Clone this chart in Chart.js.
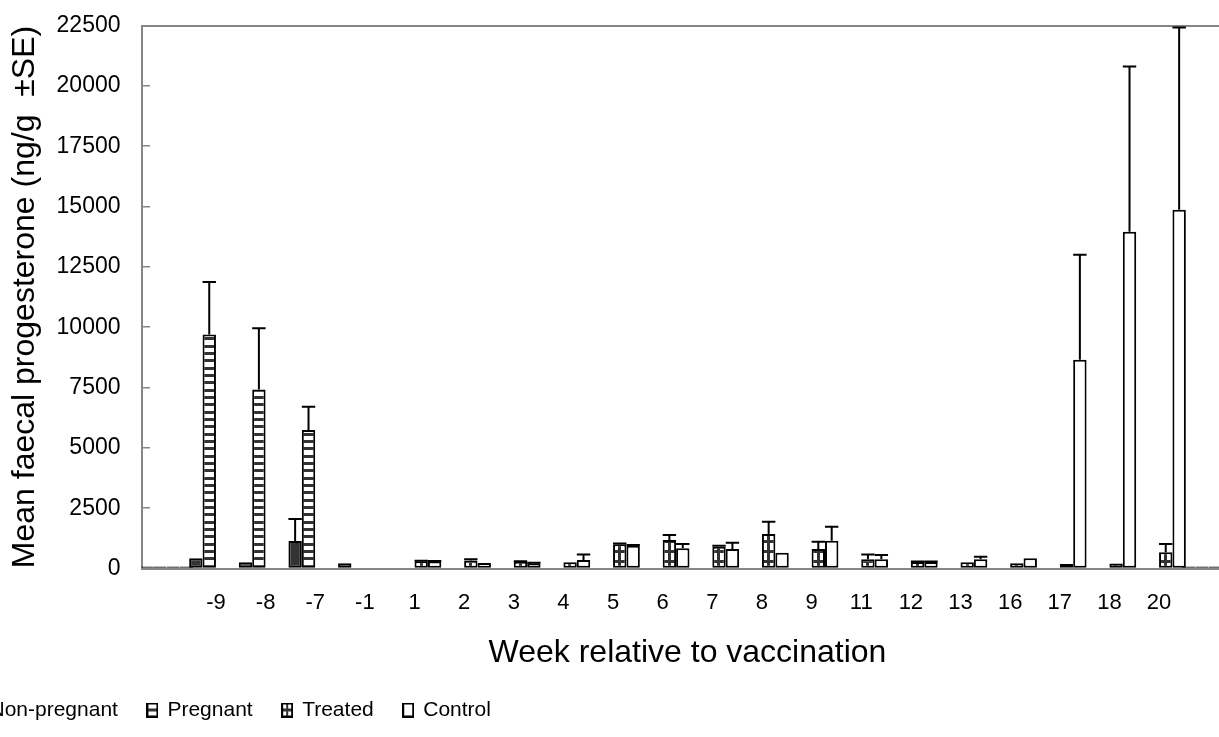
<!DOCTYPE html>
<html>
<head>
<meta charset="utf-8">
<script src="https://cdn.jsdelivr.net/npm/chart.js@4.4.1/dist/chart.umd.min.js"></script>
<style>
  html, body { margin: 0; padding: 0; background: #fff; overflow: hidden; width: 1219px; height: 737px; }
  #wrap { position: absolute; left: -60px; top: 0; }
</style>
</head>
<body>
<div id="wrap"><canvas id="c" width="1300" height="737"></canvas></div>
<script>
// Weeks relative to vaccination (blank slots pad both ends of the axis)
const weeks = ['', '-9', '-8', '-7', '-1', '1', '2', '3', '4', '5', '6', '7', '8', '9', '11', '12', '13', '16', '17', '18', '20', ''];

// Mean faecal progesterone (ng/g) per group
const nonPregnant = [0, 420, 255, 1140, 215, null, null, null, null, null, null, null, null, null, null, null, null, null, null, null, null, 0];
const pregnant    = [0, 9700, 7420, 5740, null, null, null, null, null, null, null, null, null, null, null, null, null, null, null, null, null, 0];
const treated     = [0, null, null, null, null, 300, 330, 280, 255, 1000, 1180, 900, 1425, 805, 380, 270, 255, 215, 185, 210, 670, 0];
const control     = [0, null, null, null, null, 290, 225, 215, 350, 945, 835, 805, 650, 1150, 380, 270, 380, 420, 8650, 13950, 14870, 0];

// Standard errors (drawn upward only)
const nonPregnantSE = [null, 0, 0, 910, 0, null, null, null, null, null, null, null, null, null, null, null, null, null, null, null, null, null];
const pregnantSE    = [null, 2170, 2540, 960, null, null, null, null, null, null, null, null, null, null, null, null, null, null, null, null, null, null];
const treatedSE     = [null, null, null, null, null, 20, 50, 20, 0, 40, 205, 40, 510, 305, 205, 20, 0, 0, 0, 0, 345, null];
const controlSE     = [null, null, null, null, null, 20, 0, 20, 235, 30, 180, 262, 0, 580, 180, 20, 110, 0, 4350, 6850, 7550, null];

// Y axis ticks
const yTicks = [0, 2500, 5000, 7500, 10000, 12500, 15000, 17500, 20000, 22500];

const FONT = "'Liberation Sans', Arial, sans-serif";
const AXIS_GREY = '#868686';
const DARK = '#333333';

const canvas = document.getElementById('c');
const g2d = canvas.getContext('2d');

function makeTile(w, h, paint) {
  const t = document.createElement('canvas');
  t.width = w; t.height = h;
  const c = t.getContext('2d');
  c.fillStyle = '#fff';
  c.fillRect(0, 0, w, h);
  c.fillStyle = DARK;
  paint(c);
  return t;
}

// horizontal stripes (pregnant)
const stripeTile = makeTile(4, 22, c => { [0, 7, 15].forEach(y => c.fillRect(0, y, 4, 3)); });
const stripePattern = g2d.createPattern(stripeTile, 'repeat');

// grid cells (treated): one vertical line per bar plus horizontal rules
const gridTile = makeTile(14, 10, c => { c.fillRect(0, 0, 14, 3); c.fillRect(5, 0, 3, 10); });
function treatedFill(ctx) {
  if (ctx.type !== 'data') return '#fff';
  const x = ctx.chart.scales.x.getPixelForValue(ctx.dataIndex);
  const p = g2d.createPattern(gridTile, 'repeat');
  p.setTransform(new DOMMatrix().translate(Math.round(x), 0));
  return p;
}

// legend icons
function icon(paint) {
  const t = document.createElement('canvas');
  t.width = 12; t.height = 15;
  const c = t.getContext('2d');
  c.fillStyle = '#fff';
  c.fillRect(0, 0, 12, 15);
  c.fillStyle = DARK;
  paint(c);
  c.strokeStyle = '#000';
  c.lineWidth = 2;
  c.strokeRect(1, 1, 10, 13);
  return t;
}
const legendIcons = [
  icon(c => c.fillRect(0, 0, 12, 15)),
  icon(c => c.fillRect(0, 6, 12, 3)),
  icon(c => { c.fillRect(0, 6, 12, 3); c.fillRect(5, 0, 2, 15); }),
  icon(() => {})
];

// upward error bars with a cap as wide as the bar
const errorBars = {
  id: 'errorBars',
  afterDatasetsDraw(chart) {
    const { ctx, scales: { y } } = chart;
    ctx.save();
    ctx.strokeStyle = '#000';
    ctx.lineWidth = 2;
    chart.data.datasets.forEach((ds, di) => {
      const meta = chart.getDatasetMeta(di);
      meta.data.forEach((bar, i) => {
        const v = ds.data[i];
        const e = ds.errors[i];
        if (v == null || !e) return;
        const yBar = y.getPixelForValue(v);
        const yTop = y.getPixelForValue(v + e);
        const half = bar.width / 2;
        ctx.beginPath();
        ctx.moveTo(bar.x, yBar);
        ctx.lineTo(bar.x, yTop);
        ctx.moveTo(bar.x - half, yTop);
        ctx.lineTo(bar.x + half, yTop);
        ctx.stroke();
      });
    });
    ctx.restore();
  }
};

function noPad(s) {
  s.paddingTop = 0; s.paddingBottom = 0; s.paddingLeft = 0; s.paddingRight = 0;
}

new Chart(canvas, {
  type: 'bar',
  data: {
    labels: weeks,
    datasets: [
      { label: 'Non-pregnant', data: nonPregnant, errors: nonPregnantSE, backgroundColor: DARK },
      { label: 'Pregnant', data: pregnant, errors: pregnantSE, backgroundColor: stripePattern },
      { label: 'Treated', data: treated, errors: treatedSE, backgroundColor: treatedFill },
      { label: 'Control', data: control, errors: controlSE, backgroundColor: '#fff' }
    ]
  },
  options: {
    responsive: false,
    animation: false,
    devicePixelRatio: 1,
    layout: { padding: { top: 25.5, right: 6.5, bottom: 6.5, left: 0 } },
    datasets: {
      bar: {
        categoryPercentage: 1.08,
        barPercentage: 1,
        borderWidth: 2,
        borderColor: '#000',
        borderSkipped: false,
        minBarLength: 2
      }
    },
    scales: {
      x: {
        position: 'bottom',
        grid: { display: false, drawTicks: false },
        border: { display: true, color: AXIS_GREY, width: 2 },
        ticks: { color: '#000', font: { family: FONT, size: 22 }, padding: 21, maxRotation: 0, autoSkip: false },
        title: {
          display: true,
          text: 'Week relative to vaccination',
          color: '#000',
          font: { family: FONT, size: 32 },
          padding: { top: 0, bottom: -3 }
        },
        afterFit: s => { s.height = 101; noPad(s); }
      },
      x2: {
        type: 'category',
        position: 'top',
        grid: { display: false, drawTicks: false },
        ticks: { display: false },
        border: { display: true, color: AXIS_GREY, width: 2 },
        afterFit: s => { s.height = 0; noPad(s); }
      },
      y: {
        min: yTicks[0],
        max: yTicks[yTicks.length - 1],
        afterBuildTicks: s => { s.ticks = yTicks.map(v => ({ value: v })); },
        ticks: { color: '#000', font: { family: FONT, size: 23 }, padding: 21, callback: v => String(v) },
        grid: { color: AXIS_GREY, lineWidth: 1.5, drawTicks: false },
        border: { display: true, color: AXIS_GREY, width: 2, dash: [7, 4000] },
        title: {
          display: true,
          text: 'Mean faecal progesterone (ng/g  \u00B1SE)',
          color: '#000',
          font: { family: FONT, size: 32 },
          padding: { top: 66, bottom: 0 }
        },
        afterFit: s => { s.width = 201.5; noPad(s); }
      }
    },
    plugins: {
      tooltip: { enabled: false },
      legend: {
        position: 'bottom',
        align: 'start',
        labels: {
          color: '#000',
          font: { family: FONT, size: 21 },
          padding: 30,
          boxWidth: 9,
          usePointStyle: true,
          generateLabels: chart => chart.data.datasets.map((ds, i) => ({
            text: ds.label,
            pointStyle: legendIcons[i],
            fillStyle: 'transparent',
            strokeStyle: 'transparent',
            lineWidth: 0,
            hidden: false,
            datasetIndex: i
          }))
        }
      }
    }
  },
  plugins: [errorBars]
});
</script>
</body>
</html>
